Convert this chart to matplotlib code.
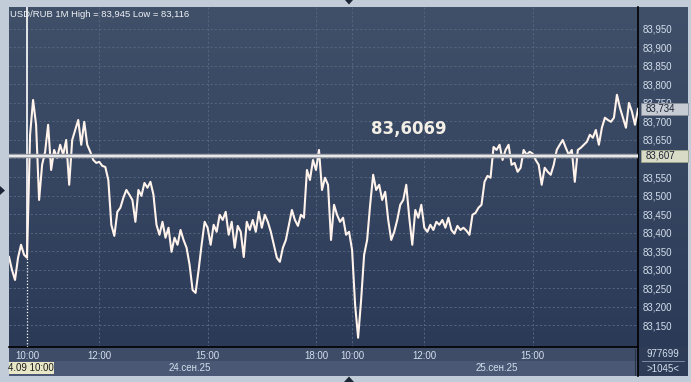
"""Static redraw of a USD/RUB one-minute terminal chart (24-25 Sep 2025)."""

from __future__ import annotations

import numpy as np
import matplotlib

matplotlib.use("Agg")
import matplotlib.pyplot as plt
from matplotlib.colors import LinearSegmentedColormap
from matplotlib.lines import Line2D
from matplotlib.patches import Polygon, Rectangle
from matplotlib.transforms import blended_transform_factory

SYMBOL = "USD/RUB"
TIMEFRAME = "1M"
HIGH = 83.945
LOW = 83.116
LAST = 83.734
MARKED = 83.6069
VOLUME = "977699"
BAR_COUNT = 1045
STEP_MIN = 5  # one reading every five minutes, starting 24.09 09:30

prices = [
    83.334, 83.299, 83.272, 83.332, 83.367, 83.340, 83.332, 83.664, 83.758, 83.691,
    83.488, 83.583, 83.618, 83.691, 83.569, 83.623, 83.602, 83.637, 83.610, 83.650,
    83.529, 83.650, 83.677, 83.704, 83.637, 83.699, 83.637, 83.618, 83.596, 83.588,
    83.591, 83.580, 83.577, 83.542, 83.421, 83.391, 83.456, 83.467, 83.494, 83.515,
    83.502, 83.488, 83.429, 83.515, 83.499, 83.534, 83.521, 83.537, 83.502, 83.421,
    83.394, 83.429, 83.386, 83.413, 83.348, 83.386, 83.367, 83.407, 83.380, 83.359,
    83.313, 83.245, 83.237, 83.299, 83.367, 83.429, 83.413, 83.367, 83.421, 83.402,
    83.448, 83.434, 83.456, 83.394, 83.429, 83.359, 83.418, 83.402, 83.334, 83.429,
    83.407, 83.434, 83.402, 83.456, 83.413, 83.448, 83.429, 83.402, 83.367, 83.332,
    83.321, 83.359, 83.380, 83.421, 83.461, 83.434, 83.418, 83.448, 83.440, 83.569,
    83.542, 83.596, 83.569, 83.623, 83.515, 83.548, 83.529, 83.380, 83.475, 83.448,
    83.429, 83.440, 83.394, 83.402, 83.353, 83.205, 83.116, 83.218, 83.340, 83.380,
    83.475, 83.556, 83.515, 83.529, 83.488, 83.510, 83.434, 83.380, 83.402, 83.434,
    83.475, 83.488, 83.529, 83.440, 83.367, 83.461, 83.440, 83.475, 83.413, 83.402,
    83.421, 83.407, 83.429, 83.421, 83.434, 83.413, 83.440, 83.407, 83.397, 83.418,
    83.407, 83.413, 83.405, 83.394, 83.448, 83.453, 83.467, 83.475, 83.537, 83.553,
    83.548, 83.631, 83.623, 83.637, 83.596, 83.623, 83.637, 83.583, 83.588, 83.564,
    83.575, 83.623, 83.610, 83.618, 83.613, 83.596, 83.583, 83.529, 83.575, 83.564,
    83.556, 83.583, 83.623, 83.637, 83.650, 83.629, 83.610, 83.623, 83.537, 83.623,
    83.629, 83.637, 83.645, 83.664, 83.656, 83.677, 83.637, 83.683, 83.710, 83.704,
    83.699, 83.710, 83.772, 83.737, 83.710, 83.683, 83.750, 83.726, 83.691, 83.734,
]

# minutes since 24.09 09:30 on the compressed (session-only) time axis
tick_minutes = [30, 150, 330, 510, 570, 690, 870]
tick_labels = ["10:00", "12:00", "15:00", "18:00", "10:00", "12:00", "15:00"]
day_labels = ["24.сен.25", "25.сен.25"]
day_label_minutes = [300, 810]
cursor_label = "4.09 10:00"
cursor_minute = 30
y_ticks = np.arange(83.15, 83.951, 0.05)
hidden_tick = 83.60  # fully covered by the marked-price tag

W, H = 691, 382
Y_RANGE = (83.091, 84.009)

BG = LinearSegmentedColormap.from_list("bg", ["#2b3a57", "#415069"])
TEXT = "#d3dfec"
GRID = "#56657f"
SMALL = dict(family="Liberation Sans", fontsize=7)


def frac(x0, y0, x1, y1):
    """Pixel box (top-left origin) -> figure fraction rect."""
    return [x0 / W, 1 - y1 / H, (x1 - x0) / W, (y1 - y0) / H]


def fpx(x, y):
    return x / W, 1 - y / H


def comma(value, digits=3):
    return f"{value:.{digits}f}".replace(".", ",")


def gradient(axis):
    axis.imshow(np.linspace(0, 1, 256)[:, None], extent=(0, 1, 0, 1), origin="lower",
                transform=axis.transAxes, aspect="auto", cmap=BG, zorder=0)


def main():
    fig = plt.figure(figsize=(W / 100, H / 100), dpi=100)
    fig.patch.set_facecolor("#c2ccd8")

    # right price scale panel and bottom time panel (drawn under the main axes)
    side = fig.add_axes(frac(638, 7, 688, 347))
    gradient(side)
    side.set_axis_off()

    bottom = fig.add_axes(frac(9, 347, 688, 376))
    bottom.set_xlim(0, 679)
    bottom.set_ylim(29, 0)
    bottom.set_axis_off()
    bottom.add_patch(Rectangle((0, 0), 629, 14, fc="#3e4c68", ec="none"))
    bottom.add_patch(Rectangle((0, 14), 629, 15, fc="#4a5875", ec="none"))
    bottom.add_patch(Rectangle((629, 0), 50, 29, fc="#2f3c58", ec="none"))
    bottom.plot([626, 626], [2, 28], color="#2a3449", lw=0.8)
    bottom.plot([633, 675], [14, 14], color="#8a98b0", lw=0.6)
    bottom.text(654, 7, VOLUME, ha="center", va="center", color=TEXT, **SMALL)
    bottom.text(654, 21.5, f">{BAR_COUNT}<", ha="center", va="center", color=TEXT, **SMALL)
    bottom.add_patch(Rectangle((0, 15), 45, 12, fc="#e8e7c8", ec="none"))
    bottom.text(-0.5, 21, cursor_label, ha="left", va="center", color="#1d1d1d", **SMALL)

    ax = fig.add_axes(frac(9, 7, 638, 347))
    gradient(ax)
    minutes = np.arange(len(prices)) * STEP_MIN

    for value in y_ticks:
        ax.axhline(value, color=GRID, lw=0.7, ls=(0, (2.2, 2.2)), zorder=1)
    for minute in tick_minutes[1:]:
        ax.axvline(minute, color=GRID, lw=0.7, ls=(0, (2.2, 2.2)), zorder=1)

    # session start marker: solid above the first bar, dotted below
    start_value = prices[cursor_minute // STEP_MIN]
    ax.vlines(cursor_minute, Y_RANGE[0], start_value, colors="white", lw=0.9,
              linestyles=(0, (1, 1.5)), zorder=3)
    ax.vlines(cursor_minute, start_value, Y_RANGE[1], colors="white", lw=1.2, zorder=3)

    ax.plot(minutes, prices, color="#fff3ec", lw=1.5, zorder=4)

    ax.axhline(MARKED, color="#9c9fa8", lw=3.2, zorder=5)
    ax.axhline(MARKED, color="#f6f6f6", lw=1.2, zorder=6)
    ax.text(0.636, 0.642, comma(MARKED, 4), transform=ax.transAxes, ha="center",
            va="center", fontsize=12, fontweight="bold", color="#f3efe6",
            family="DejaVu Sans", zorder=7)

    ax.text(0.0016, 0.979, f"{SYMBOL} {TIMEFRAME} High = {comma(HIGH)} Low = {comma(LOW)}",
            transform=ax.transAxes, ha="left", va="center", color="#eef2f7", zorder=7,
            family="Liberation Sans", fontsize=6.8)

    ax.set_xlim(0, BAR_COUNT)
    ax.set_ylim(*Y_RANGE)
    ax.yaxis.tick_right()
    ax.set_yticks(y_ticks, ["" if abs(v - hidden_tick) < 1e-6 else comma(v) for v in y_ticks])
    ax.set_xticks(tick_minutes, tick_labels)
    ax.tick_params(axis="y", length=0, pad=3, labelsize=7, labelcolor=TEXT)
    ax.tick_params(axis="x", length=0, pad=3.2, labelsize=7, labelcolor=TEXT)
    for label in ax.get_xticklabels() + ax.get_yticklabels():
        label.set_family("Liberation Sans")
    for side_name in ("top", "left"):
        ax.spines[side_name].set_visible(False)
    for side_name in ("bottom", "right"):
        ax.spines[side_name].set_color("black")
        ax.spines[side_name].set_linewidth(1.2)

    xaxis_tr = ax.get_xaxis_transform()
    for minute, text in zip(day_label_minutes, day_labels):
        ax.text(minute, -0.062, text, transform=xaxis_tr, ha="center", va="center",
                color=TEXT, clip_on=False, **SMALL)

    # price tags on the right scale
    tag_tr = blended_transform_factory(ax.transAxes, ax.transData)
    half = (Y_RANGE[1] - Y_RANGE[0]) / 340 * 6
    for value, face, edge in ((LAST, "#c6cbd4", "#8b919c"), (MARKED, "#d8dcc6", "#9da38b")):
        ax.add_patch(Rectangle((1.005, value - half), 0.0745, 2 * half, transform=tag_tr,
                               fc=face, ec=edge, lw=0.6, clip_on=False, zorder=8))
        ax.text(1.012, value, comma(value), transform=tag_tr, ha="left", va="center",
                color="#1b2232", clip_on=False, zorder=9, **SMALL)

    fig.add_artist(Line2D([638 / W] * 2, [1 - 376 / H, 1 - 347 / H], color="black", lw=1.2))
    for points in (
        [(0, 186), (5, 190.5), (0, 195)],
        [(345, 0), (353, 0), (349, 4.5)],
        [(344, 382), (354, 382), (349, 376.5)],
    ):
        fig.add_artist(Polygon([fpx(x, y) for x, y in points], closed=True,
                               fc="#1d2638", ec="none", transform=fig.transFigure))

    fig.savefig("out.png", dpi=100, facecolor=fig.get_facecolor())
    plt.close(fig)


if __name__ == "__main__":
    main()
